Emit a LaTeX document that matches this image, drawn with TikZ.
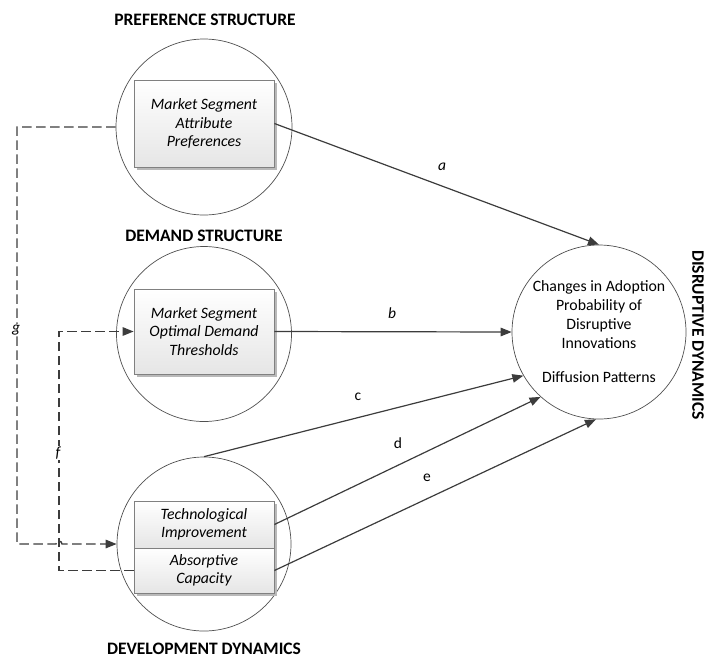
\documentclass[tikz,border=0pt]{standalone}
\usepackage{fontspec}
\setmainfont{Carlito}
\usetikzlibrary{arrows.meta,shadows}
\definecolor{linegray}{HTML}{3C3C3C}
\definecolor{ringgray}{HTML}{505050}
\definecolor{boxedge}{HTML}{808080}
\begin{document}
\begin{tikzpicture}[x=1pt,y=-1pt,
  ring/.style={circle,draw=ringgray,line width=0.7pt,fill=white,inner sep=0pt},
  factor/.style={rectangle,draw=boxedge,line width=0.8pt,top color=white,bottom color=gray!20,
    minimum width=140pt,align=center,inner sep=0pt,
    font=\fontsize{15.8}{18.5}\selectfont\itshape,
    drop shadow={shadow xshift=2.5pt,shadow yshift=-2.5pt,fill=gray!55,opacity=1}},
  heading/.style={font=\fontsize{17.5}{20}\selectfont\bfseries},
  path label/.style={font=\fontsize{15.5}{18}\selectfont,inner sep=1pt},
  slanted label/.style={path label,font=\fontsize{15.5}{18}\selectfont\itshape},
  tip/.style={-{Triangle[length=11pt,width=8.5pt]}},
  link/.style={draw=linegray,line width=1.2pt,tip},
  feedback/.style={draw=linegray,line width=1.35pt,dash pattern=on 9.5pt off 4.5pt}
]
\useasboundingbox (0,0) rectangle (708,659);

% outer circles
\node[ring,minimum size=176pt] (pc) at (204,127) {};
\node[ring,minimum size=175pt] (ds) at (204,334) {};
\node[ring,minimum size=174pt] (dev) at (204,544) {};
\node[ring,minimum size=174pt,align=center,font=\fontsize{15.8}{19}\selectfont] (dc) at (599,332)
  {Changes in Adoption\\Probability of\\Disruptive\\Innovations\\[15pt]Diffusion Patterns};

% headings
\node[heading] (hpref) at (205,20) {PREFERENCE STRUCTURE};
\node[heading] (hdem) at (204,236) {DEMAND STRUCTURE};
\node[heading] (hdev) at (204,649) {DEVELOPMENT DYNAMICS};
\node[heading,rotate=-90] (hdis) at (698,335) {DISRUPTIVE DYNAMICS};

% factor boxes
\node[factor,minimum height=87pt] (pb) at (204,123.5) {Market Segment\\Attribute\\Preferences};
\node[factor,minimum height=85pt] (db) at (204,331.5) {Market Segment\\Optimal Demand\\Thresholds};
\node[factor,minimum height=47pt] (tib) at (204,524.5) {Technological\\Improvement};
\node[factor,minimum height=45pt] (acb) at (204,570.5) {Absorptive\\Capacity};

% direct effects
\draw[link] (pb.east) -- (dc.north);
\draw[link] (db.east) -- (dc.west);
\draw[link] (dev.north) -- (dc.210);
\draw[link] (tib.east) -- (dc.228);
\draw[link] (acb.east) -- (dc.268);

\node[slanted label] (la) at (442,167) {a};
\node[slanted label] (lb) at (392,313) {b};
\node[path label] (lc) at (358,397) {c};
\node[path label] (ld) at (398,443) {d};
\node[path label] (le) at (427,478) {e};

% feedback loops
\coordinate (g1) at (17,127);
\coordinate (g2) at (17,544);
\coordinate (hop) at (56,544);
\coordinate (f1) at (59,570.5);
\coordinate (f2) at (59,331.5);

\draw[feedback,tip]
  (pc.west) -- (g1) -- (g2) -- (hop) arc[start angle=180,end angle=360,radius=3] -- (dev.west);
\draw[feedback,tip]
  (acb.west) -- (f1) -- (f2) -- (db.west);

\node[slanted label,fill=white] (lg) at (16,330) {g};
\node[slanted label,fill=white] (lf) at (58,453) {f};
\end{tikzpicture}
\end{document}
